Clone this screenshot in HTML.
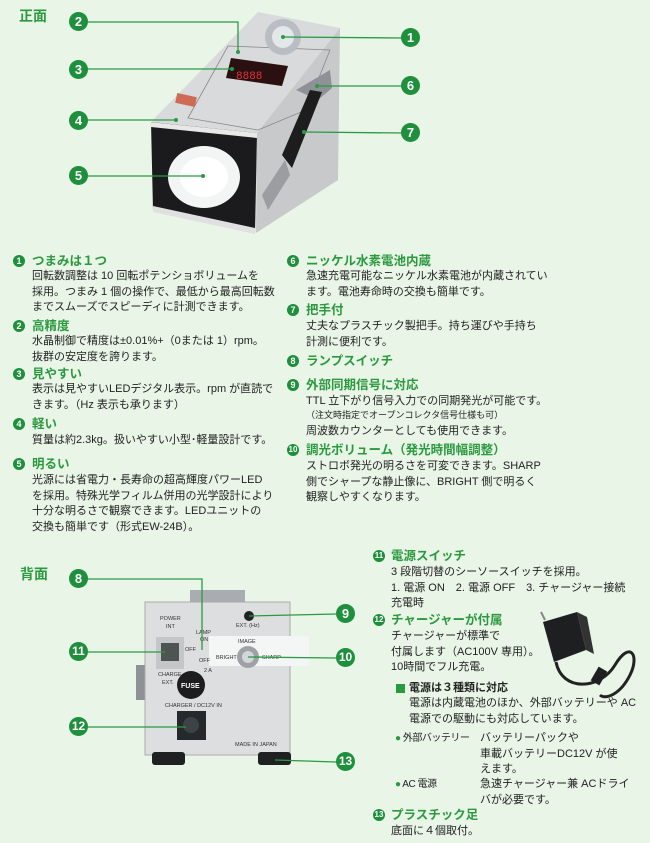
<!DOCTYPE html>
<html><head><meta charset="utf-8">
<style>
body{margin:0;width:650px;height:843px;background:#e9f5e7;position:relative;overflow:hidden;font-family:"Liberation Sans","Noto Sans CJK JP",sans-serif;color:#222}
.a{position:absolute;white-space:nowrap}
.h{font-size:12.5px;font-weight:bold;color:#2b9a3f;line-height:14px}
.b{font-size:11px;line-height:15.6px}
.s{font-size:9px;line-height:12px}
.n{position:absolute;width:12px;height:12px;border-radius:50%;background:#1e8f3c;color:#fff;font-size:9px;font-weight:bold;text-align:center;line-height:12px}
.sec{position:absolute;font-size:14px;font-weight:bold;color:#2b9a3f}
</style></head><body>
<svg width="650" height="843" style="position:absolute;left:0;top:0">
<polygon points="151,122 258,12 340,28 257,133" fill="#d9dadb"/>
<polygon points="257,133 340,28 338,180 256,233" fill="#c7c9cb"/>
<polygon points="151,122 257,133 255,233 153,210" fill="#1b1b1d"/>
<polygon points="150,122 257,133 257,138 151,127" fill="#e8e8e8"/>
<polygon points="153,206 255,228 255,234 153,212" fill="#e0e0e0"/>
<ellipse cx="204" cy="177" rx="36" ry="31" fill="#f3f5f4"/>
<ellipse cx="204" cy="177" rx="24" ry="20" fill="#ffffff"/>
<polygon points="188,118 228,46 330,50 306,110 258,130" fill="none" stroke="#888" stroke-width="0.8"/>
<polygon points="231,58 288,66 282,86 226,78" fill="#2a1010"/>
<text x="236" y="79" font-size="11" fill="#e5333a" font-family="Liberation Mono">8888</text>
<rect x="176" y="95" width="20" height="10" fill="#cf6a55" transform="rotate(12 186 100)"/>
<circle cx="283" cy="37" r="18" fill="#b8bec4"/><circle cx="283" cy="37" r="11" fill="#e3e7ea"/>
<polygon points="296,90 330,70 332,88 318,100" fill="#8e9195"/>
<polygon points="282,155 310,90 322,92 292,168" fill="#1d1d1d"/>
<polygon points="262,195 285,160 290,175 268,210" fill="#9b9ea1"/>
<g stroke="#2a9a45" stroke-width="1.3" fill="none">
<polyline points="87,22 238,22 238,52"/><line x1="87" y1="69" x2="232" y2="69"/><line x1="87" y1="120" x2="176" y2="120"/><line x1="87" y1="176" x2="203" y2="176"/>
<line x1="402" y1="38" x2="283" y2="37"/><line x1="402" y1="86" x2="317" y2="86"/><line x1="402" y1="133" x2="304" y2="132"/>
</g>
<g fill="#2a9a45"><circle cx="238" cy="52" r="2"/><circle cx="232" cy="69" r="2"/><circle cx="176" cy="120" r="2"/><circle cx="203" cy="176" r="2"/><circle cx="283" cy="37" r="2"/><circle cx="317" cy="86" r="2"/><circle cx="304" cy="132" r="2"/></g>
<rect x="190" y="590" width="55" height="13" fill="#a9adb1"/>
<rect x="136" y="665" width="10" height="35" fill="#8e9196"/>
<rect x="145" y="602" width="145" height="153" fill="#dcdedf" stroke="#aaa"/>
<rect x="152" y="752" width="33" height="13" rx="3" fill="#1f2022"/><rect x="258" y="752" width="33" height="13" rx="3" fill="#1f2022"/>
<rect x="156" y="637" width="28" height="32" fill="#c4c6c8"/><rect x="161" y="643" width="18" height="18" fill="#4d5452"/>
<rect x="209" y="636" width="100" height="30" fill="#f4f5f5"/>
<circle cx="248" cy="657" r="11" fill="#9ea2a6"/><circle cx="248" cy="657" r="6" fill="#d4d7d9"/>
<circle cx="191" cy="685" r="14" fill="#1d1d1f"/>
<text x="181" y="688" font-size="7" fill="#fff" font-weight="bold">FUSE</text>
<rect x="177" y="711" width="29" height="29" fill="#26292b"/><circle cx="191" cy="725" r="8" fill="#3c4346"/>
<circle cx="249" cy="616" r="5" fill="#222"/>
<g font-size="5.5" fill="#333"><text x="160" y="620">POWER</text><text x="166" y="628">INT</text><text x="196" y="634">LAMP</text><text x="200" y="641">ON</text><text x="185" y="651">OFF</text><text x="199" y="662">OFF</text><text x="158" y="676">CHARGE</text><text x="162" y="684">EXT.</text><text x="204" y="672">2 A</text><text x="165" y="707">CHARGER / DC12V IN</text><text x="236" y="627">EXT. (Hz)</text><text x="238" y="643">IMAGE</text><text x="216" y="659">BRIGHT</text><text x="262" y="659">SHARP</text><text x="235" y="746">MADE IN JAPAN</text></g>
<g stroke="#2a9a45" stroke-width="1.3" fill="none">
<polyline points="87,579 202,579 202,650"/><line x1="87" y1="652" x2="165" y2="652"/><line x1="87" y1="727" x2="186" y2="727"/>
<line x1="336" y1="614" x2="249" y2="616"/><line x1="336" y1="658" x2="248" y2="657"/><line x1="336" y1="762" x2="275" y2="760"/>
</g>
<polygon points="543,622 577,612 586,650 554,662" fill="#1e1f21"/>
<polygon points="577,612 587,617 594,654 586,650" fill="#333"/>
<line x1="545" y1="620" x2="541" y2="612" stroke="#888" stroke-width="2"/>
<path d="M556,662 C562,692 600,690 615,665 C630,640 640,655 630,675 C620,695 605,700 600,695" stroke="#222" stroke-width="3" fill="none"/>
<rect x="594" y="668" width="10" height="16" fill="#1e1f21" transform="rotate(30 599 676)"/>
</svg>
<div class="sec" style="left:19px;top:6px">正面</div>
<div class="sec" style="left:20px;top:564px">背面</div>
<div class="n" style="left:69px;top:12px;width:19px;height:19px;line-height:19px;font-size:13px">2</div>
<div class="n" style="left:69px;top:60px;width:19px;height:19px;line-height:19px;font-size:13px">3</div>
<div class="n" style="left:69px;top:111px;width:19px;height:19px;line-height:19px;font-size:13px">4</div>
<div class="n" style="left:69px;top:166px;width:19px;height:19px;line-height:19px;font-size:13px">5</div>
<div class="n" style="left:401px;top:28px;width:19px;height:19px;line-height:19px;font-size:13px">1</div>
<div class="n" style="left:401px;top:76px;width:19px;height:19px;line-height:19px;font-size:13px">6</div>
<div class="n" style="left:401px;top:123px;width:19px;height:19px;line-height:19px;font-size:13px">7</div>
<div class="n" style="left:69px;top:569px;width:19px;height:19px;line-height:19px;font-size:13px">8</div>
<div class="n" style="left:69px;top:642px;width:19px;height:19px;line-height:19px;font-size:12px">11</div>
<div class="n" style="left:69px;top:717px;width:19px;height:19px;line-height:19px;font-size:12px">12</div>
<div class="n" style="left:336px;top:604px;width:19px;height:19px;line-height:19px;font-size:13px">9</div>
<div class="n" style="left:336px;top:648px;width:19px;height:19px;line-height:19px;font-size:12px">10</div>
<div class="n" style="left:336px;top:752px;width:19px;height:19px;line-height:19px;font-size:12px">13</div>

<div class="n" style="left:13px;top:255px">1</div><div class="a h" style="left:32px;top:254px">つまみは１つ</div>
<div class="a b" style="left:32px;top:269px">回転数調整は 10 回転ポテンショボリュームを<br>採用。つまみ 1 個の操作で、最低から最高回転数<br>までスムーズでスピーディに計測できます。</div>
<div class="n" style="left:13px;top:320px">2</div><div class="a h" style="left:32px;top:319px">高精度</div>
<div class="a b" style="left:32px;top:334px">水晶制御で精度は±0.01%+（0または 1）rpm。<br>抜群の安定度を誇ります。</div>
<div class="n" style="left:13px;top:368px">3</div><div class="a h" style="left:32px;top:367px">見やすい</div>
<div class="a b" style="left:32px;top:382px">表示は見やすいLEDデジタル表示。rpm が直読で<br>きます。（Hz 表示も承ります）</div>
<div class="n" style="left:13px;top:418px">4</div><div class="a h" style="left:32px;top:417px">軽い</div>
<div class="a b" style="left:32px;top:433px">質量は約2.3kg。扱いやすい小型･軽量設計です。</div>
<div class="n" style="left:13px;top:458px">5</div><div class="a h" style="left:32px;top:457px">明るい</div>
<div class="a b" style="left:32px;top:473px">光源には省電力・長寿命の超高輝度パワーLED<br>を採用。特殊光学フィルム併用の光学設計により<br>十分な明るさで観察できます。LEDユニットの<br>交換も簡単です（形式EW-24B）。</div>

<div class="n" style="left:287px;top:255px">6</div><div class="a h" style="left:306px;top:254px">ニッケル水素電池内蔵</div>
<div class="a b" style="left:306px;top:269px">急速充電可能なニッケル水素電池が内蔵されてい<br>ます。電池寿命時の交換も簡単です。</div>
<div class="n" style="left:287px;top:304px">7</div><div class="a h" style="left:306px;top:303px">把手付</div>
<div class="a b" style="left:306px;top:319px">丈夫なプラスチック製把手。持ち運びや手持ち<br>計測に便利です。</div>
<div class="n" style="left:287px;top:355px">8</div><div class="a h" style="left:306px;top:354px">ランプスイッチ</div>
<div class="n" style="left:287px;top:379px">9</div><div class="a h" style="left:306px;top:378px">外部同期信号に対応</div>
<div class="a b" style="left:306px;top:394px">TTL 立下がり信号入力での同期発光が可能です。</div>
<div class="a s" style="left:306px;top:409px">（注文時指定でオープンコレクタ信号仕様も可）</div>
<div class="a b" style="left:306px;top:424px">周波数カウンターとしても使用できます。</div>
<div class="n" style="left:287px;top:444px;font-size:8px">10</div><div class="a h" style="left:306px;top:443px">調光ボリューム（発光時間幅調整）</div>
<div class="a b" style="left:306px;top:459px">ストロボ発光の明るさを可変できます。SHARP<br>側でシャープな静止像に、BRIGHT 側で明るく<br>観察しやすくなります。</div>

<div class="n" style="left:373px;top:550px;font-size:8px">11</div><div class="a h" style="left:391px;top:549px">電源スイッチ</div>
<div class="a b" style="left:391px;top:565px">3 段階切替のシーソースイッチを採用。<br>1. 電源 ON　2. 電源 OFF　3. チャージャー接続<br>充電時</div>
<div class="n" style="left:373px;top:614px;font-size:8px">12</div><div class="a h" style="left:391px;top:613px">チャージャーが付属</div>
<div class="a b" style="left:391px;top:629px">チャージャーが標準で<br>付属します（AC100V 専用）。<br>10時間でフル充電。</div>
<div class="a" style="left:396px;top:684px;width:9px;height:9px;background:#2b9a3f"></div>
<div class="a" style="left:409px;top:681px;font-size:11px;font-weight:bold;line-height:14px">電源は３種類に対応</div>
<div class="a b" style="left:409px;top:696px">電源は内蔵電池のほか、外部バッテリーや AC<br>電源での駆動にも対応しています。</div>
<div class="a b" style="left:395px;top:731px;font-size:10px;letter-spacing:-0.5px"><span style="color:#2b9a3f">●</span> 外部バッテリー</div>
<div class="a b" style="left:480px;top:731px">バッテリーパックや<br>車載バッテリーDC12V が使<br>えます。</div>
<div class="a b" style="left:395px;top:777px;font-size:10px;letter-spacing:-0.5px"><span style="color:#2b9a3f">●</span> AC 電源</div>
<div class="a b" style="left:480px;top:777px">急速チャージャー兼 ACドライ<br>バが必要です。</div>
<div class="n" style="left:373px;top:809px;font-size:8px">13</div><div class="a h" style="left:391px;top:808px">プラスチック足</div>
<div class="a b" style="left:391px;top:824px">底面に４個取付。</div>
</body></html>
